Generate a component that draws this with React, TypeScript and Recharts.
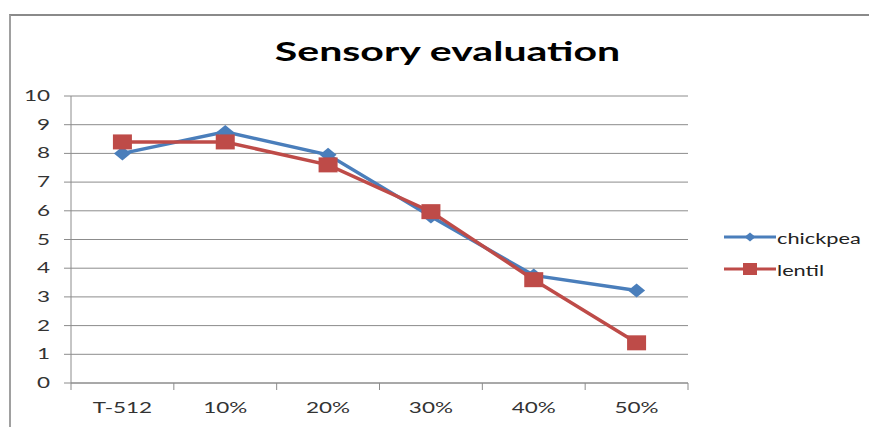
import React from 'react';
import { LineChart, Line, XAxis, YAxis, CartesianGrid } from 'recharts';

const categories = ['T-512', '10%', '20%', '30%', '40%', '50%'];
const chickpea = [8.0, 8.75, 7.95, 5.8, 3.75, 3.22];
const lentil = [8.4, 8.4, 7.6, 5.97, 3.6, 1.4];
const yTicks = [0, 1, 2, 3, 4, 5, 6, 7, 8, 9, 10];
const xTicks = [0, 0.5, 1, 1.5, 2, 2.5, 3, 3.5, 4, 4.5, 5, 5.5, 6];

const BLUE = '#4a7ebb';
const RED = '#be4b48';
const AXIS = '#8c8c8c';
const FONT = 'Lato, "Open Sans", sans-serif';
const STRETCH = 1.5;

// points sit in the middle of each category slot
const data = categories.map((name, i) => ({ x: i + 0.5, name, chickpea: chickpea[i], lentil: lentil[i] }));

const Diamond = (props: any) => {
  const { cx, cy, index } = props;
  if (cx == null || cy == null) return null;
  return (
    <path
      key={`d-${index}`}
      d={`M${cx},${cy - 7}L${cx + 8.5},${cy}L${cx},${cy + 7}L${cx - 8.5},${cy}Z`}
      fill={BLUE}
    />
  );
};

const Square = (props: any) => {
  const { cx, cy, index } = props;
  if (cx == null || cy == null) return null;
  return <rect key={`s-${index}`} x={cx - 9.5} y={cy - 7.5} width={19} height={15} fill={RED} />;
};

const XTick = (props: any) => {
  const { x, y, payload } = props;
  const v = payload.value as number;
  if (Number.isInteger(v)) {
    return <line x1={x} y1={y} x2={x} y2={y + 7} stroke={AXIS} strokeWidth={1} />;
  }
  const label = categories[Math.floor(v)];
  return (
    <text
      transform={`translate(${x},${y + 30}) scale(${STRETCH},1)`}
      textAnchor="middle"
      fontFamily={FONT}
      fontSize={15}
      fill="#333"
    >
      {label}
    </text>
  );
};

const YTick = (props: any) => {
  const { x, y, payload } = props;
  return (
    <g>
      <line x1={x - 7} y1={y} x2={x} y2={y} stroke={AXIS} strokeWidth={1} />
      <text
        transform={`translate(${x - 21},${y + 5}) scale(${STRETCH},1)`}
        textAnchor="end"
        fontFamily={FONT}
        fontSize={15}
        fill="#333"
      >
        {payload.value}
      </text>
    </g>
  );
};

const LegendRow = ({ color, label, square }: { color: string; label: string; square: boolean }) => (
  <div style={{ display: 'flex', alignItems: 'center', height: 32 }}>
    <svg width={52} height={20} style={{ flex: 'none' }}>
      <line x1={0} y1={10} x2={52} y2={10} stroke={color} strokeWidth={3} />
      {square ? (
        <rect x={19} y={4} width={14} height={12} fill={color} />
      ) : (
        <path d="M26,5.5L31.5,10L26,14.5L20.5,10Z" fill={color} />
      )}
    </svg>
    <span
      style={{
        fontFamily: FONT,
        fontSize: 16,
        color: '#222',
        whiteSpace: 'nowrap',
        display: 'inline-block',
        transform: 'scaleX(1.36)',
        transformOrigin: 'left center',
        marginLeft: 1,
      }}
    >
      {label}
    </span>
  </div>
);

export default function App() {
  return (
    <div style={{ position: 'relative', width: 869, height: 419, overflow: 'hidden', background: '#fff' }}>
      <div
        style={{
          position: 'absolute',
          left: 1,
          top: 6,
          width: 900,
          height: 500,
          borderTop: '2px solid #8a8a8a',
          borderLeft: '2px solid #a0a0a0',
        }}
      />
      <div
        style={{
          position: 'absolute',
          left: 0,
          top: 26,
          width: 879,
          textAlign: 'center',
          fontFamily: FONT,
          fontWeight: 700,
          fontSize: 27,
          color: '#000',
          transform: 'scaleX(1.52)',
        }}
      >
        Sensory evaluation
      </div>
      <div style={{ position: 'absolute', left: 0, top: 0 }}>
        <LineChart
          width={869}
          height={419}
          data={data}
          margin={{ top: 88, right: 189, left: 0, bottom: 14 }}
        >
          <CartesianGrid vertical={false} stroke={AXIS} strokeWidth={1} />
          <XAxis
            dataKey="x"
            type="number"
            domain={[0, 6]}
            ticks={xTicks}
            interval={0}
            height={30}
            stroke={AXIS}
            tickLine={false}
            tickSize={0}
            tickMargin={0}
            tick={<XTick />}
          />
          <YAxis
            domain={[0, 10]}
            ticks={yTicks}
            interval={0}
            width={63}
            stroke={AXIS}
            tickLine={false}
            tickSize={0}
            tickMargin={0}
            tick={<YTick />}
          />
          <Line
            dataKey="chickpea"
            stroke={BLUE}
            strokeWidth={3.5}
            dot={<Diamond />}
            activeDot={false}
            isAnimationActive={false}
          />
          <Line
            dataKey="lentil"
            stroke={RED}
            strokeWidth={3.5}
            dot={<Square />}
            activeDot={false}
            isAnimationActive={false}
          />
        </LineChart>
      </div>
      <div style={{ position: 'absolute', left: 716, top: 213 }}>
        <LegendRow color={BLUE} label="chickpea" square={false} />
        <LegendRow color={RED} label="lentil" square={true} />
      </div>
    </div>
  );
}
